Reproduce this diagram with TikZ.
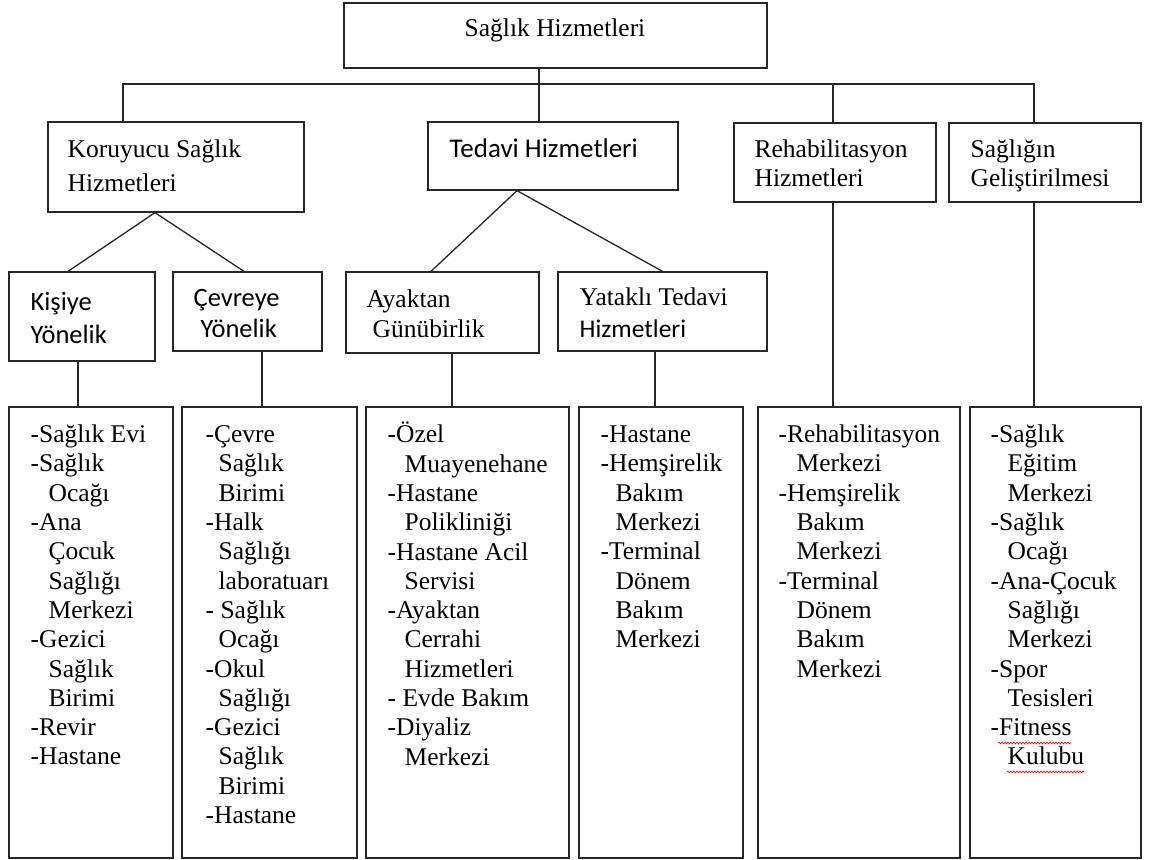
\documentclass[tikz,border=0pt]{standalone}
\usepackage{fontspec}
\setmainfont{Liberation Serif}
\newfontfamily\calib{Carlito}
\usetikzlibrary{decorations.pathmorphing}

\newlength\indw
\newcommand{\ind}{\hspace*{\indw}}

\begin{document}
\begin{tikzpicture}[x=1pt,y=-1pt,line width=1.3pt,draw=black!85,
                    box/.style={draw,inner sep=0pt},
                    hd/.style={anchor=north west,inner sep=0pt,align=left,
                               font=\fontsize{25.5}{#1}\selectfont},
                    hds/.style={anchor=north west,inner sep=0pt,align=left,
                                font=\calib\fontsize{26.5}{#1}\selectfont},
                    lst/.style={anchor=north west,inner sep=0pt,align=left,
                                font=\fontsize{25.5}{29.3}\selectfont\setlength\indw{#1}},
                    wavy/.style={red,line width=0.6pt,decorate,
                                 decoration={snake,amplitude=1pt,segment length=3pt}}]
  \useasboundingbox (0,0) rectangle (1153,859);

  % boxes
  \node[box,minimum width=423,minimum height=65] (top) at (555.5,35.5) {};
  \node[box,minimum width=256,minimum height=90] (kor) at (176,167) {};
  \node[box,minimum width=250,minimum height=68] (ted) at (553,156) {};
  \node[box,minimum width=202,minimum height=79] (reh) at (835,162.5) {};
  \node[box,minimum width=192,minimum height=79] (gel) at (1045,162.5) {};
  \node[box,minimum width=146,minimum height=89] (kis) at (82,316.5) {};
  \node[box,minimum width=149,minimum height=79] (cev) at (247.5,311.5) {};
  \node[box,minimum width=193,minimum height=81] (aya) at (442.5,312.5) {};
  \node[box,minimum width=209,minimum height=79] (yat) at (662.5,311.5) {};
  \node[box,minimum width=164,minimum height=451] (b1) at (91,632.5) {};
  \node[box,minimum width=175,minimum height=451] (b2) at (269.5,632.5) {};
  \node[box,minimum width=203,minimum height=451] (b3) at (467.5,632.5) {};
  \node[box,minimum width=164,minimum height=451] (b4) at (661,632.5) {};
  \node[box,minimum width=202,minimum height=451] (b5) at (859,632.5) {};
  \node[box,minimum width=171,minimum height=451] (b6) at (1055.5,632.5) {};

  % headings
  \node[anchor=base,inner sep=0pt,font=\fontsize{25.5}{30}\selectfont] (topT) at (555,37) {Sağlık Hizmetleri};
  \node[hd=33.5] (korT) at (67,133.5) {\strut Koruyucu Sağlık\\Hizmetleri};
  \node[anchor=base west,inner sep=0pt,font=\calib\fontsize{27}{32}\selectfont] (tedT) at (449,157) {Tedavi Hizmetleri};
  \node[hd=28.5] (rehT) at (754,137) {\strut Rehabilitasyon\\Hizmetleri};
  \node[hd=28.5] (gelT) at (970,137) {\strut Sağlığın\\Geliştirilmesi};
  \node[hds=33] (kisT) at (30,286.9) {\strut Kişiye\\Yönelik};
  \node[hds=31] (cevT) at (193,284.3) {\strut Çevreye\\\hspace*{7pt}Yönelik};
  \node[hd=30] (ayaT) at (366,286) {\strut Ayaktan\\\hspace*{6pt}Günübirlik};
  \node[hd=32] (yatT) at (579,282.6) {\strut Yataklı Tedavi\\{\calib Hizmetleri}};

  % lists
  \node[lst=18pt] (b1T) at (30,421.5) {\strut -Sağlık Evi\\-Sağlık\\\ind Ocağı\\-Ana\\\ind Çocuk\\\ind Sağlığı\\\ind Merkezi\\-Gezici\\\ind Sağlık\\\ind Birimi\\-Revir\\-Hastane};
  \node[lst=13pt] (b2T) at (205,421.5) {\strut -Çevre\\\ind Sağlık\\\ind Birimi\\-Halk\\\ind Sağlığı\\\ind laboratuarı\\- Sağlık\\\ind Ocağı\\-Okul\\\ind Sağlığı\\-Gezici\\\ind Sağlık\\\ind Birimi\\-Hastane};
  \node[lst=17pt] (b3T) at (387,421.5) {\strut -Özel\\\ind Muayenehane\\-Hastane\\\ind Polikliniği\\-Hastane Acil\\\ind Servisi\\-Ayaktan\\\ind Cerrahi\\\ind Hizmetleri\\- Evde Bakım\\-Diyaliz\\\ind Merkezi};
  \node[lst=15pt] (b4T) at (600,421.5) {\strut -Hastane\\-Hemşirelik\\\ind Bakım\\\ind Merkezi\\-Terminal\\\ind Dönem\\\ind Bakım\\\ind Merkezi};
  \node[lst=18pt] (b5T) at (778,421.5) {\strut -Rehabilitasyon\\\ind Merkezi\\-Hemşirelik\\\ind Bakım\\\ind Merkezi\\-Terminal\\\ind Dönem\\\ind Bakım\\\ind Merkezi};
  \node[lst=17pt] (b6T) at (990,421.5) {\strut -Sağlık\\\ind Eğitim\\\ind Merkezi\\-Sağlık\\\ind Ocağı\\-Ana-Çocuk\\\ind Sağlığı\\\ind Merkezi\\-Spor\\\ind Tesisleri\\-Fitness\\\ind Kulubu};

  % connectors
  \coordinate (busL) at (123,84);
  \coordinate (busR) at (1034,84);
  \draw (top.south -| 539,0) -- (ted.north -| 539,0);
  \draw (kor.north -| busL) |- (busR) -- (gel.north -| busR);
  \draw (reh.north -| 833,0) -- (busR -| 833,0);
  \draw ([xshift=-21pt]kor.south) -- ([xshift=-14pt]kis.north);
  \draw ([xshift=-21pt]kor.south) -- ([xshift=-3.5pt]cev.north);
  \draw ([xshift=-36pt]ted.south) -- ([xshift=-11.5pt]aya.north);
  \draw ([xshift=-36pt]ted.south) -- (yat.north);
  \foreach \a/\b/\x in {kis/b1/78,cev/b2/262,aya/b3/452,yat/b4/655,reh/b5/833,gel/b6/1034}
    \draw (\a.south -| \x,0) -- (\b.north -| \x,0);

  % spelling marks
  \draw[wavy] (998,743) -- (1071,743);
  \draw[wavy] (1007,772) -- (1084,772);
\end{tikzpicture}
\end{document}
